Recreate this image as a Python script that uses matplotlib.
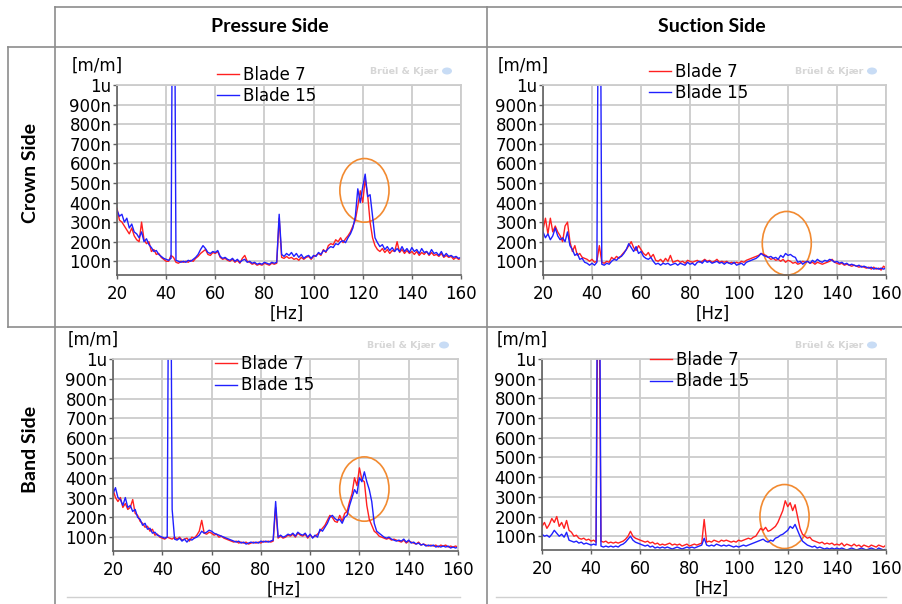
import matplotlib
matplotlib.use("Agg")
import matplotlib.pyplot as plt
from matplotlib.patches import Ellipse
from matplotlib.lines import Line2D

W, H = 902, 604

# frequency grid [Hz], one value per Hz
freq = list(range(20, 161))

# strain amplitudes in n m/m (20..160 Hz)
cp_blade7 = [370, 310, 300, 280, 260, 240, 270, 230, 210, 200,
             300, 210, 190, 200, 150, 160, 135, 140, 120, 110,
             100, 100, 130, 120, 95, 90, 100, 95, 100, 95,
             105, 100, 115, 125, 140, 150, 160, 135, 130, 145,
             140, 150, 120, 110, 115, 105, 100, 110, 95, 105,
             90, 115, 130, 100, 95, 85, 90, 80, 85, 80,
             90, 85, 80, 90, 85, 90, 320, 120, 115, 125,
             115, 120, 110, 115, 105, 120, 110, 120, 125, 110,
             125, 130, 140, 130, 160, 145, 180, 190, 185, 210,
             200, 220, 195, 215, 230, 250, 280, 310, 380, 460,
             400, 520, 440, 300, 220, 180, 160, 150, 165, 145,
             160, 140, 155, 150, 200, 145, 160, 140, 155, 140,
             150, 135, 150, 130, 145, 135, 150, 130, 145, 130,
             135, 125, 140, 120, 130, 120, 125, 110, 120, 110,
             115]
cp_blade15 = [360, 330, 340, 300, 320, 270, 290, 250, 240, 220,
              250, 200, 215, 185, 170, 150, 155, 135, 125, 115,
              110, 105, 115, 2600, 105, 100, 95, 100, 95, 105,
              100, 110, 120, 135, 160, 180, 165, 145, 140, 150,
              145, 155, 125, 115, 120, 110, 105, 115, 100, 110,
              95, 105, 110, 95, 100, 90, 95, 85, 90, 85,
              95, 90, 85, 95, 90, 95, 340, 135, 125, 140,
              130, 145, 125, 140, 120, 135, 115, 125, 130, 115,
              130, 125, 145, 135, 155, 150, 165, 175, 170, 190,
              185, 200, 205, 195, 220, 240, 270, 330, 470, 400,
              480, 545, 430, 440, 330, 220, 195, 175, 185, 160,
              175, 155, 170, 150, 165, 150, 175, 150, 165, 145,
              170, 150, 160, 140, 165, 145, 150, 135, 160, 140,
              145, 130, 150, 125, 140, 125, 130, 120, 125, 115,
              120]

cs_blade7 = [260, 320, 240, 320, 250, 280, 250, 230, 200, 280,
             300, 200, 150, 180, 130, 140, 120, 115, 110, 100,
             110, 95, 100, 180, 95, 90, 100, 95, 120, 110,
             125, 115, 130, 145, 160, 180, 200, 170, 155, 180,
             160, 140, 130, 145, 120, 135, 105, 100, 110, 95,
             115, 100, 130, 95, 100, 105, 95, 100, 90, 105,
             100, 95, 100, 105, 95, 100, 110, 100, 105, 95,
             100, 110, 95, 100, 95, 100, 90, 95, 90, 95,
             90, 100, 95, 105, 110, 115, 120, 125, 130, 140,
             135, 130, 120, 110, 115, 105, 110, 100, 110, 95,
             105, 100, 90, 95, 85, 90, 100, 95, 100, 90,
             95, 85, 95, 90, 85, 90, 95, 100, 110, 95,
             90, 85, 90, 80, 85, 80, 75, 80, 75, 70,
             75, 70, 65, 70, 60, 70, 60, 65, 55, 75,
             65]
cs_blade15 = [250, 220, 240, 210, 230, 270, 230, 210, 220, 200,
              250, 180, 160, 130, 140, 110, 115, 95, 90, 80,
              90, 80, 95, 2600, 85, 80, 90, 85, 100, 110,
              105, 120, 125, 140, 160, 190, 170, 150, 175, 140,
              150, 125, 115, 110, 120, 100, 85, 90, 80, 90,
              85, 90, 80, 85, 90, 80, 90, 85, 80, 95,
              85, 90, 80, 95, 100, 90, 105, 95, 100, 90,
              95, 100, 90, 95, 85, 95, 90, 85, 95, 80,
              85, 90, 80, 95, 100, 105, 110, 115, 125, 140,
              130, 125, 120, 125, 115, 120, 110, 130, 120, 140,
              130, 135, 125, 120, 95, 100, 85, 95, 100, 90,
              105, 95, 110, 100, 95, 105, 100, 110, 105, 95,
              100, 90, 95, 85, 90, 80, 85, 80, 75, 80,
              70, 75, 70, 65, 70, 60, 65, 60, 65, 60,
              65]

bp_blade7 = [340, 300, 280, 300, 250, 270, 240, 250, 290, 220,
             210, 180, 170, 150, 155, 130, 140, 110, 115, 100,
             95, 90, 100, 95, 90, 100, 90, 100, 85, 90,
             95, 80, 100, 95, 110, 130, 185, 120, 115, 125,
             120, 110, 115, 100, 105, 95, 90, 85, 80, 75,
             80, 70, 75, 70, 75, 65, 70, 75, 70, 75,
             70, 80, 75, 80, 75, 80, 250, 95, 105, 95,
             100, 110, 105, 115, 100, 120, 110, 105, 115, 95,
             110, 100, 105, 115, 130, 145, 160, 185, 210, 200,
             180, 175, 210, 180, 220, 230, 280, 320, 400, 360,
             450, 390, 380, 260, 190, 160, 130, 120, 105, 100,
             95, 90, 95, 85, 90, 85, 80, 75, 85, 70,
             80, 75, 70, 65, 75, 60, 65, 60, 55, 60,
             55, 60, 50, 60, 55, 60, 50, 55, 50, 55,
             50]
bp_blade15 = [320, 350, 300, 290, 260, 300, 250, 260, 230, 240,
              200, 190, 160, 170, 140, 145, 120, 125, 110, 105,
              100, 95, 100, 2600, 240, 90, 85, 95, 80, 90,
              75, 90, 85, 95, 100, 110, 130, 120, 125, 135,
              130, 120, 115, 110, 105, 100, 95, 90, 85, 80,
              75, 80, 70, 75, 65, 70, 75, 70, 75, 70,
              80, 75, 80, 75, 80, 85, 280, 100, 110, 100,
              105, 115, 110, 120, 105, 125, 115, 110, 120, 100,
              115, 95, 110, 100, 140, 130, 150, 170, 200, 210,
              195, 185, 190, 170, 200, 210, 260, 300, 340, 320,
              400, 380, 430, 380, 340, 280, 170, 130, 120, 110,
              100, 95, 100, 90, 85, 80, 85, 80, 90, 75,
              85, 70, 75, 65, 70, 60, 65, 55, 60, 55,
              60, 50, 55, 50, 55, 50, 55, 45, 50, 45,
              50]

bs_blade7 = [150, 170, 140, 160, 190, 170, 200, 150, 170, 140,
             180, 130, 120, 100, 105, 90, 85, 90, 80, 85,
             75, 80, 70, 1800, 75, 70, 75, 65, 70, 65,
             70, 65, 70, 75, 85, 100, 125, 100, 90, 85,
             80, 75, 70, 75, 65, 70, 60, 65, 55, 60,
             55, 60, 65, 55, 60, 55, 60, 50, 55, 60,
             50, 55, 60, 55, 60, 65, 185, 70, 75, 70,
             80, 75, 70, 80, 75, 80, 75, 70, 75, 70,
             80, 75, 80, 85, 90, 85, 95, 100, 120, 140,
             130, 145, 125, 130, 140, 150, 170, 200, 230, 280,
             250, 270, 230, 260, 200, 140, 110, 100, 90, 95,
             80, 75, 70, 65, 70, 60, 65, 60, 65, 55,
             60, 55, 65, 50, 60, 55, 50, 60, 50, 55,
             45, 55, 50, 45, 55, 50, 45, 55, 50, 45,
             55]
bs_blade15 = [110, 100, 105, 95, 110, 130, 115, 100, 110, 95,
              120, 80, 75, 70, 75, 65, 70, 60, 65, 60,
              55, 60, 55, 2600, 50, 45, 50, 45, 50, 45,
              50, 45, 55, 60, 70, 85, 100, 80, 70, 65,
              60, 55, 50, 55, 45, 50, 40, 45, 40, 45,
              40, 45, 40, 35, 40, 45, 40, 35, 40, 45,
              40, 45, 40, 45, 50, 55, 90, 55, 50, 55,
              50, 60, 55, 50, 55, 50, 55, 50, 45, 50,
              45, 50, 55, 50, 55, 60, 65, 70, 75, 80,
              85, 75, 70, 80, 75, 90, 95, 105, 110, 120,
              130, 150, 140, 160, 130, 100, 75, 65, 55, 50,
              45, 50, 40, 45, 40, 35, 40, 35, 40, 35,
              40, 35, 40, 35, 30, 35, 40, 35, 30, 35,
              40, 35, 30, 35, 40, 35, 30, 40, 35, 30,
              35]

col_titles = ["Pressure Side", "Suction Side"]
row_titles = ["Crown Side", "Band Side"]
legend_labels = ["Blade 7", "Blade 15"]
ytick_vals = [100, 200, 300, 400, 500, 600, 700, 800, 900, 1000]
ytick_labels = ["100n", "200n", "300n", "400n", "500n", "600n", "700n", "800n", "900n", "1u"]
xtick_vals = [20, 40, 60, 80, 100, 120, 140, 160]


def fx(x):
    return x / W


def fy(y):
    return 1 - y / H


fig = plt.figure(figsize=(9.02, 6.04), dpi=100)

# table frame
line_col = "#8c8c8c"
table_lines = [
    ((55, 902), (7, 7)),
    ((8, 902), (47, 47)),
    ((8, 902), (327, 327)),
    ((55, 55), (7, 604)),
    ((487, 487), (7, 604)),
    ((8, 8), (47, 327)),
]
for xs, ys in table_lines:
    fig.add_artist(Line2D([fx(x) for x in xs], [fy(y) for y in ys],
                          color=line_col, lw=1.2))
for xs in [(67, 460), (496, 886)]:
    fig.add_artist(Line2D([fx(x) for x in xs], [fy(597), fy(597)],
                          color="#d0d0d0", lw=1.0))

hdr_font = ["Lato", "DejaVu Sans"]
fig.text(fx(270), fy(27), col_titles[0], ha="center", va="center",
         fontsize=14, fontweight="bold", family=hdr_font)
fig.text(fx(712), fy(27), col_titles[1], ha="center", va="center",
         fontsize=14, fontweight="bold", family=hdr_font)
fig.text(fx(31), fy(173), row_titles[0], ha="center", va="center",
         rotation=90, fontsize=14, fontweight="bold", family=hdr_font)
fig.text(fx(31), fy(449), row_titles[1], ha="center", va="center",
         rotation=90, fontsize=14, fontweight="bold", family=hdr_font)

# (blade7, blade15, axes box l,t,r,b in px, legend anchor px, ellipse centre (Hz, n))
panels = [
    (cp_blade7, cp_blade15, (117, 85, 461, 275), (217, 66), (120.7, 462)),
    (cs_blade7, cs_blade15, (543, 85, 886, 275), (649, 63), (119.5, 192)),
    (bp_blade7, bp_blade15, (113, 359, 458, 551), (215, 355), (122.0, 343)),
    (bs_blade7, bs_blade15, (542, 359, 886, 550), (650, 351), (118.7, 200)),
]

for b7, b15, (l, t, r, b), (lx, ly), (ex, ey) in panels:
    ax = fig.add_axes([fx(l), fy(b), (r - l) / W, (b - t) / H])
    h7, = ax.plot(freq, b7, color="#ff2020", lw=1.0)
    h15, = ax.plot(freq, b15, color="#2020ff", lw=1.0)
    ax.set_xlim(20, 160)
    ax.set_ylim(30, 1000)
    ax.set_xticks(xtick_vals)
    ax.set_yticks(ytick_vals)
    ax.set_yticklabels(ytick_labels)
    ax.grid(True, color="#cccccc", lw=1.3)
    ax.set_axisbelow(True)
    for side in ["top", "right"]:
        ax.spines[side].set_color("#cccccc")
        ax.spines[side].set_linewidth(1.3)
    for side in ["left", "bottom"]:
        ax.spines[side].set_color("#606060")
        ax.spines[side].set_linewidth(1.2)
    ax.tick_params(axis="both", direction="out", length=3, width=1,
                   color="#606060", labelsize=12, pad=1)
    ax.tick_params(axis="x", pad=4)
    ax.add_patch(Ellipse((ex, ey), 20, 325, fill=False,
                         edgecolor="#f28a30", lw=1.2, clip_on=False))
    ax.legend([h7, h15], legend_labels, loc="upper left",
              bbox_to_anchor=(fx(lx), fy(ly)), bbox_transform=fig.transFigure,
              frameon=False, fontsize=12, borderpad=0, borderaxespad=0,
              handlelength=1.3, handletextpad=0.25, labelspacing=0.2)
    cx = (l + r) / 2
    fig.text(fx(l - 20), fy(t - 19), "[m/m]", ha="center", va="center", fontsize=12)
    fig.text(fx(cx - 2), fy(b + 39), "[Hz]", ha="center", va="center", fontsize=12)
    # vendor watermark
    fig.text(fx(r - 57), fy(t - 14), "Brüel & Kjær", ha="center", va="center",
             fontsize=6.8, fontweight="bold", color="#d6d6d6")
    fig.add_artist(Ellipse((fx(r - 14), fy(t - 14)), 10 / W, 7 / H,
                           facecolor="#c8dcf5", edgecolor="none"))

fig.savefig("out.png", dpi=100)
